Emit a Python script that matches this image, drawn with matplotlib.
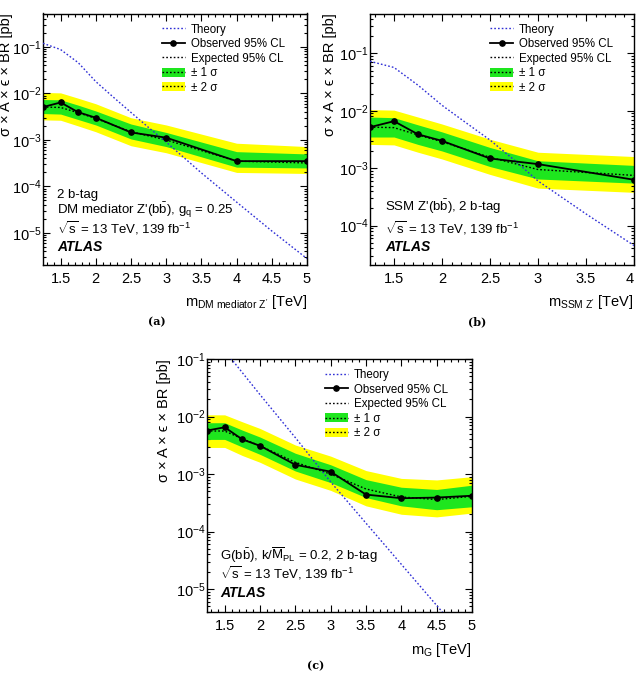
import matplotlib
matplotlib.use("Agg")
import matplotlib.pyplot as plt
from matplotlib.ticker import MultipleLocator, LogLocator, NullFormatter, FuncFormatter
from matplotlib.patches import Patch
from matplotlib.lines import Line2D

plt.rcParams['font.family'] = ['Liberation Sans', 'DejaVu Sans']
plt.rcParams['mathtext.fontset'] = 'custom'
plt.rcParams['mathtext.rm'] = 'Liberation Sans'
plt.rcParams['mathtext.it'] = 'Liberation Sans:italic'
plt.rcParams['mathtext.bf'] = 'Liberation Sans:bold'
plt.rcParams['mathtext.sf'] = 'Liberation Sans'

# ---------------- data ----------------
# (a) DM mediator Z'
mass_a = [1.25, 1.5, 1.75, 2.0, 2.5, 3.0, 4.0, 5.0]
obs_a = [5.1e-3, 6.4e-3, 3.95e-3, 3.0e-3, 1.45e-3, 1.12e-3, 3.5e-4, 3.5e-4]
exp_a = [5.1e-3, 5.0e-3, 3.85e-3, 2.9e-3, 1.5e-3, 1.0e-3, 3.5e-4, 3.2e-4]
m2_a = [2.7e-3, 2.65e-3, 2.0e-3, 1.5e-3, 7.5e-4, 5.3e-4, 2.0e-4, 1.9e-4]
m1_a = [3.7e-3, 3.6e-3, 2.75e-3, 2.1e-3, 1.05e-3, 7.2e-4, 2.6e-4, 2.5e-4]
p1_a = [7.4e-3, 7.3e-3, 5.6e-3, 4.2e-3, 2.2e-3, 1.45e-3, 5.6e-4, 5.0e-4]
p2_a = [1.05e-2, 1.03e-2, 7.9e-3, 6.0e-3, 3.0e-3, 2.1e-3, 8.5e-4, 7.2e-4]
th_mass_a = [1.25, 1.5, 1.75, 2.0, 2.25, 2.5, 2.75, 3.0, 3.5, 4.0, 4.5, 5.0]
th_a = [0.12, 0.088, 0.046, 0.018, 8.3e-3, 3.9e-3, 1.85e-3, 9.0e-4, 1.95e-4, 4.6e-5, 1.1e-5, 2.8e-6]

# (b) SSM Z'
mass_b = [1.25, 1.5, 1.75, 2.0, 2.5, 3.0, 4.0]
obs_b = [5.2e-3, 6.6e-3, 3.9e-3, 3.0e-3, 1.48e-3, 1.18e-3, 6.3e-4]
exp_b = [5.2e-3, 5.1e-3, 3.8e-3, 2.9e-3, 1.55e-3, 9.5e-4, 7.5e-4]
m2_b = [2.6e-3, 2.55e-3, 1.9e-3, 1.45e-3, 7.8e-4, 4.5e-4, 3.8e-4]
m1_b = [3.5e-3, 3.5e-3, 2.6e-3, 2.0e-3, 1.07e-3, 6.5e-4, 5.5e-4]
p1_b = [7.8e-3, 7.6e-3, 5.7e-3, 4.3e-3, 2.3e-3, 1.35e-3, 1.12e-3]
p2_b = [1.05e-2, 1.03e-2, 7.8e-3, 5.9e-3, 3.2e-3, 1.9e-3, 1.6e-3]
th_mass_b = [1.25, 1.5, 1.75, 2.0, 2.25, 2.5, 2.75, 3.0, 3.5, 4.0]
th_b = [0.073, 0.057, 0.028, 0.0125, 6.2e-3, 3.1e-3, 1.4e-3, 6.0e-4, 1.6e-4, 4.5e-5]

# (c) Graviton
mass_c = [1.25, 1.5, 1.75, 2.0, 2.5, 3.0, 3.5, 4.0, 4.5, 5.0]
obs_c = [5.7e-3, 6.5e-3, 4.0e-3, 3.1e-3, 1.45e-3, 1.1e-3, 4.4e-4, 3.8e-4, 3.9e-4, 4.2e-4]
exp_c = [5.6e-3, 5.6e-3, 4.1e-3, 3.1e-3, 1.6e-3, 1.0e-3, 5.5e-4, 4.0e-4, 3.6e-4, 4.1e-4]
m2_c = [2.9e-3, 2.9e-3, 2.1e-3, 1.6e-3, 8.2e-4, 5.2e-4, 2.8e-4, 2.0e-4, 1.8e-4, 2.1e-4]
m1_c = [4.0e-3, 4.0e-3, 2.95e-3, 2.2e-3, 1.13e-3, 7.1e-4, 3.9e-4, 2.8e-4, 2.4e-4, 2.7e-4]
p1_c = [7.8e-3, 7.8e-3, 5.8e-3, 4.4e-3, 2.3e-3, 1.45e-3, 8.0e-4, 5.9e-4, 5.4e-4, 6.4e-4]
p2_c = [1.07e-2, 1.07e-2, 8.1e-3, 6.2e-3, 3.2e-3, 2.05e-3, 1.15e-3, 8.4e-4, 7.9e-4, 9.0e-4]
th_mass_c = [1.25, 1.5, 2.0, 2.5, 3.0, 3.5, 4.0, 4.5, 5.0]
th_c = [0.4, 0.14, 0.024, 4.3e-3, 7.3e-4, 1.4e-4, 2.7e-5, 5.2e-6, 1.0e-6]

legend_labels = ["Theory", "Observed 95% CL", "Expected 95% CL", "± 1 σ", "± 2 σ"]
ylabel = "σ × A × ϵ × BR [pb]"

GREEN = '#1ee61e'
YELLOW = '#ffff00'
BLUE = '#2f2fd6'
DOT = (0, (1.2, 1.5))

W, H = 636, 676
fig = plt.figure(figsize=(W / 100, H / 100), dpi=100)


def make_axes(l, t, r, b):
    return fig.add_axes([l / W, 1 - b / H, (r - l) / W, (b - t) / H])


def draw_panel(ax, mass, obs, exp, m2, m1, p1, p2, thm, th, xlim, ylim,
               xlabel, texts, leg_x, leg_y, ylab_x, xlab_y):
    ax.fill_between(mass, m2, p2, color=YELLOW, lw=0, zorder=1)
    ax.fill_between(mass, m1, p1, color=GREEN, lw=0, zorder=2)
    ax.plot(mass, exp, color='black', ls=DOT, lw=1.0, zorder=3)
    ax.plot(thm, th, color=BLUE, ls=DOT, lw=1.0, zorder=4)
    ax.plot(mass, obs, color='black', lw=1.3, marker='o', ms=3.8, zorder=5)
    ax.set_yscale('log')
    ax.set_xlim(*xlim)
    ax.set_ylim(*ylim)
    ax.xaxis.set_major_locator(MultipleLocator(0.5))
    ax.xaxis.set_minor_locator(MultipleLocator(0.1))
    ax.xaxis.set_major_formatter(FuncFormatter(lambda v, p: f"{v:g}"))
    ax.yaxis.set_major_locator(LogLocator(base=10, numticks=20))
    ax.yaxis.set_minor_locator(LogLocator(base=10, subs=range(2, 10), numticks=20))
    ax.yaxis.set_minor_formatter(NullFormatter())
    ax.tick_params(which='both', direction='in', top=True, right=True, width=0.8)
    ax.tick_params(which='major', length=5, labelsize=10.5)
    ax.tick_params(which='minor', length=2.5)
    ax.tick_params(axis='y', pad=1)
    ax.tick_params(axis='x', pad=5)
    for s in ax.spines.values():
        s.set_linewidth(1.0)

    ax.text(ylab_x, 1.0, ylabel, rotation=90, ha='center', va='top',
            transform=ax.transAxes, fontsize=10.5)
    ax.text(1.0, xlab_y, xlabel, ha='right', va='center',
            transform=ax.transAxes, fontsize=10.5)

    for (tx, ty, s, kw) in texts:
        opts = dict(fontsize=9.5)
        opts.update(kw)
        ax.text(tx, ty, s, transform=ax.transAxes, va='center', ha='left', **opts)

    handles = [
        Line2D([], [], color=BLUE, ls=DOT, lw=1.0),
        Line2D([], [], color='black', lw=1.3, marker='o', ms=3.8),
        Line2D([], [], color='black', ls=DOT, lw=1.0),
        (Patch(facecolor=GREEN, edgecolor='none'),
         Line2D([], [], color='black', ls=DOT, lw=1.0)),
        (Patch(facecolor=YELLOW, edgecolor='none'),
         Line2D([], [], color='black', ls=DOT, lw=1.0)),
    ]
    ax.legend(handles, legend_labels, loc='upper left', bbox_to_anchor=(leg_x, leg_y),
              frameon=False, fontsize=8.3, numpoints=1, handlelength=2.0,
              handleheight=0.8, handletextpad=0.5, labelspacing=0.22,
              borderpad=0, borderaxespad=0)


ax_a = make_axes(43, 13.5, 307, 265)
draw_panel(ax_a, mass_a, obs_a, exp_a, m2_a, m1_a, p1_a, p2_a, th_mass_a, th_a,
           (1.25, 5.0), (2.04e-6, 0.525),
           r"m$_{\mathrm{DM\ mediator\ Z'}}$ [TeV]",
           [(0.053, 0.278, "2 b-tag", {}),
            (0.053, 0.219, r"DM mediator Z'(b$\bar{\mathrm{b}}$), g$_{\mathrm{q}}$ = 0.25", {}),
            (0.053, 0.147, r"$\sqrt{\mathrm{s}}$ = 13 TeV, 139 fb$^{\mathrm{-1}}$", {}),
            (0.053, 0.072, "ATLAS", {'fontweight': 'bold', 'fontstyle': 'italic', 'fontsize': 10})],
           0.45, 0.96, -0.14, -0.147)

ax_b = make_axes(370, 13.5, 634, 265)
draw_panel(ax_b, mass_b, obs_b, exp_b, m2_b, m1_b, p1_b, p2_b, th_mass_b, th_b,
           (1.25, 4.0), (2.06e-5, 0.497),
           r"m$_{\mathrm{SSM\ Z'}}$ [TeV]",
           [(0.057, 0.231, r"SSM Z'(b$\bar{\mathrm{b}}$), 2 b-tag", {}),
            (0.057, 0.147, r"$\sqrt{\mathrm{s}}$ = 13 TeV, 139 fb$^{\mathrm{-1}}$", {}),
            (0.057, 0.072, "ATLAS", {'fontweight': 'bold', 'fontstyle': 'italic', 'fontsize': 10})],
           0.455, 0.96, -0.152, -0.147)
# keep the last x tick label inside the figure
fig.canvas.draw()
for lab in ax_b.get_xticklabels():
    if lab.get_text() == "4":
        lab.set_ha('right')

ax_c = make_axes(207, 359, 472, 612)
draw_panel(ax_c, mass_c, obs_c, exp_c, m2_c, m1_c, p1_c, p2_c, th_mass_c, th_c,
           (1.25, 5.0), (4.0e-6, 0.1),
           r"m$_{\mathrm{G}}$ [TeV]",
           [(0.049, 0.225, r"G(b$\bar{\mathrm{b}}$), k/$\overline{\mathrm{M}}_{\mathrm{PL}}$ = 0.2, 2 b-tag", {}),
            (0.049, 0.154, r"$\sqrt{\mathrm{s}}$ = 13 TeV, 139 fb$^{\mathrm{-1}}$", {}),
            (0.049, 0.075, "ATLAS", {'fontweight': 'bold', 'fontstyle': 'italic', 'fontsize': 10})],
           0.445, 0.96, -0.162, -0.15)

for s, x, y in [("(a)", 157, 322), ("(b)", 477, 322), ("(c)", 316, 666)]:
    fig.text(x / W, 1 - y / H, s, ha='center', va='center', fontsize=8,
             fontweight='bold', family='DejaVu Serif')

fig.savefig("out.png", dpi=100)
